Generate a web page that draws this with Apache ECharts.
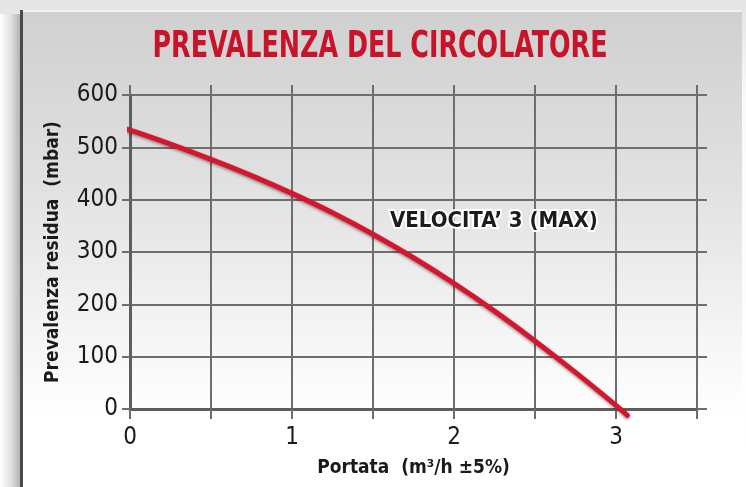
<!DOCTYPE html>
<html>
<head>
<meta charset="utf-8">
<script src="https://cdn.jsdelivr.net/npm/echarts@6/dist/echarts.min.js"></script>
<style>html,body{margin:0;padding:0;background:#ffffff;}#chart{width:746px;height:487px;}</style>
</head>
<body>
<div id="chart"></div>
<script>
// ---- data ----
var flowValues = [-0.06, 0, 0.25, 0.5, 0.75, 1.0, 1.25, 1.5, 1.75, 2.0, 2.25, 2.5, 2.75, 3.0, 3.07];
var headValues = [536, 533, 506, 477, 446, 412, 375, 334, 289, 240, 187, 130, 70, 7, -12];
var xTickLabels = ['0', '1', '2', '3'];
var yTickLabels = ['0', '100', '200', '300', '400', '500', '600'];
var titleText = 'PREVALENZA DEL CIRCOLATORE';
var seriesName = "VELOCITA\u2019 3 (MAX)";
var xName = 'Portata  (m\u00b3/h \u00b15%)';
var yName = 'Prevalenza residua  (mbar)';

var FONT = "'Liberation Sans Narrow', 'DejaVu Sans Condensed', sans-serif";
var chart = echarts.init(document.getElementById('chart'), null, {renderer: 'canvas'});

var points = flowValues.map(function (x, i) { return [x, headValues[i]]; });

// measure title to fit the reference width
var mc = document.createElement('canvas').getContext('2d');
var titleFont = 'bold 37px ' + FONT;
mc.font = titleFont;
var titleScale = 455 / mc.measureText(titleText).width;

var gridLine = {show: true, lineStyle: {color: '#6e6e6e', width: 2}};
var hiddenLine = {show: true, onZero: false, lineStyle: {color: 'rgba(0,0,0,0)', width: 0}};
var option = {
  backgroundColor: '#ffffff',
  animation: false,
  graphic: [
    {type: 'rect', z: -10, silent: true, shape: {x: 0, y: 0, width: 746, height: 487},
     style: {fill: new echarts.graphic.LinearGradient(0, 0, 0, 1, [
       {offset: 0, color: '#e4e4e4'}, {offset: 0.1, color: '#eeeeee'}, {offset: 0.2, color: '#fafafa'}, {offset: 1, color: '#ffffff'}])}},
    {type: 'rect', z: -10, silent: true, shape: {x: 0, y: 14, width: 22, height: 473},
     style: {fill: new echarts.graphic.LinearGradient(0, 0, 1, 0, [
       {offset: 0, color: '#ffffff'}, {offset: 0.5, color: '#e0e0e0'}, {offset: 1, color: '#a8a8a8'}])}},
    {type: 'rect', z: -9, silent: true, shape: {x: 22, y: 10, width: 720, height: 477},
     style: {fill: new echarts.graphic.LinearGradient(0, 0, 0, 1, [
       {offset: 0, color: '#d0d0d0'}, {offset: 0.35, color: '#e0e0e0'}, {offset: 0.7, color: '#f6f6f6'}, {offset: 0.85, color: '#ffffff'}, {offset: 1, color: '#ffffff'}])}},
    {type: 'rect', z: -8, silent: true, shape: {x: 22, y: 10, width: 720, height: 2},
     style: {fill: '#f2f2f2'}},
    {type: 'rect', z: -8, silent: true, shape: {x: 20, y: 10, width: 3, height: 477},
     style: {fill: '#4a4a4a'}},
    {type: 'text', z: 10, x: 380, y: 47, scaleX: titleScale, scaleY: 1,
     style: {text: titleText, fill: '#c8142a', font: titleFont, x: 0, y: 0,
             textAlign: 'center', textVerticalAlign: 'middle'}},
    {type: 'text', z: 10, left: 388, top: 208,
     style: {text: seriesName, fill: '#1c1c1c', font: 'bold 22px ' + FONT,
             stroke: '#ffffff', lineWidth: 4}}
  ],
  grid: {left: 130, right: 49, top: 95, bottom: 78, containLabel: false},
  xAxis: [
    {type: 'value', min: 0, max: 3.5, interval: 0.5, position: 'bottom',
     name: xName, nameLocation: 'middle', nameGap: 50,
     nameTextStyle: {fontFamily: FONT, fontSize: 19, fontWeight: 'bold', color: '#1a1a1a'},
     axisLine: {show: true, onZero: false, lineStyle: {color: '#5e5e5e', width: 3}},
     axisTick: {show: true, inside: false, length: 10, lineStyle: {color: '#6e6e6e', width: 2}},
     axisLabel: {margin: 17, fontFamily: FONT, fontSize: 24, color: '#1a1a1a',
       formatter: function (v) { return Number.isInteger(v) ? xTickLabels[v] : ''; }},
     splitLine: gridLine},
    {type: 'value', min: 0, max: 3.5, interval: 0.5, position: 'top',
     axisLine: hiddenLine, axisLabel: {show: false}, splitLine: {show: false},
     axisTick: {show: true, inside: false, length: 10, lineStyle: {color: '#6e6e6e', width: 2}}}
  ],
  yAxis: [
    {type: 'value', min: 0, max: 600, interval: 100, position: 'left',
     name: yName, nameLocation: 'middle', nameGap: 67, nameRotate: 90,
     nameTextStyle: {fontFamily: FONT, fontSize: 19, fontWeight: 'bold', color: '#1a1a1a'},
     axisLine: {show: true, lineStyle: {color: '#5e5e5e', width: 3}},
     axisTick: {show: true, inside: false, length: 8, lineStyle: {color: '#6e6e6e', width: 2}},
     axisLabel: {margin: 12, fontFamily: FONT, fontSize: 24, color: '#1a1a1a',
       formatter: function (v) { return yTickLabels[Math.round(v / 100)]; }},
     splitLine: gridLine},
    {type: 'value', min: 0, max: 600, interval: 100, position: 'right',
     axisLine: hiddenLine, axisLabel: {show: false}, splitLine: {show: false},
     axisTick: {show: true, inside: false, length: 10, lineStyle: {color: '#6e6e6e', width: 2}}}
  ],
  series: [{
    type: 'line', name: seriesName, data: points, smooth: 0.4, clip: false,
    showSymbol: false, symbol: 'none', z: 5,
    lineStyle: {color: '#d3172e', width: 5, cap: 'round',
      shadowColor: 'rgba(60,0,0,0.45)', shadowBlur: 3, shadowOffsetY: 1.5}
  }]
};
chart.setOption(option);
</script>
</body>
</html>
